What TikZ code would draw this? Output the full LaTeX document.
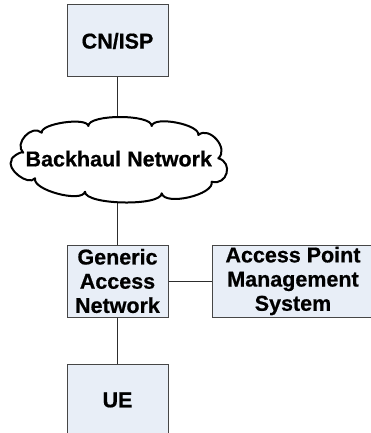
\documentclass[tikz,border=0pt]{standalone}
\usepackage{fontspec}
\setmainfont{Liberation Sans}
\newfontface\heavy{Liberation Sans Bold}[FakeBold=0.6]
\definecolor{boxfill}{RGB}{232,238,247}
\definecolor{boxline}{RGB}{70,70,70}
\definecolor{linec}{RGB}{45,45,45}
\begin{document}
\begin{tikzpicture}[x=1pt,y=-1pt,
  box/.style={draw=boxline, line width=1pt, fill=boxfill, minimum width=101pt,
    minimum height=72pt, inner sep=0pt, align=center,
    font=\heavy\fontsize{21.5}{24.2}\selectfont},
  link/.style={draw=linec, line width=1pt},
  cloudline/.style={draw=black, line width=2pt, fill=white, line join=round},
  lbl/.style={inner sep=0pt, font=\heavy\fontsize{21.5}{24.2}\selectfont}]
\fill[white] (0,0) rectangle (370,433);
\useasboundingbox (0,0) rectangle (370,433);
% boxes
\node[box] (cn)   at (117.5,41)  {CN/ISP};
\node[box] (gan)  at (117.5,281) {Generic\\Access\\Network};
\node[box, minimum width=162pt] (apms) at (293,281) {Access Point\\Management\\System};
\node[box] (ue)   at (117.5,400) {UE};
% connectors
\draw[link] (cn) -- (gan);
\draw[link] (gan) -- (apms);
\draw[link] (gan) -- (ue);
% cloud
\draw[cloudline]
  (23.3,152.7)
  .. controls (13.5,143.7) and (31.9,123.7) .. (41.7,132.7)
  .. controls (40.4,123.5) and (87.0,116.8) .. (88.3,126)
  .. controls (88.3,114) and (151.7,114) .. (151.7,126)
  .. controls (153.7,115.5) and (200.3,124.5) .. (198.3,135)
  .. controls (209.4,125.5) and (229.4,148.8) .. (218.3,158.3)
  .. controls (233.7,162.6) and (227.1,186.0) .. (211.7,181.7)
  .. controls (214.7,194.7) and (164.7,206.3) .. (161.7,193.3)
  .. controls (161.4,206.6) and (84.7,205.0) .. (85,191.7)
  .. controls (81.9,203.3) and (31.9,189.9) .. (35,178.3)
  .. controls (28.4,186.7) and (5.1,168.4) .. (11.7,160)
  .. controls (10.3,157.7) and (21.9,150.4) .. (23.3,152.7)
  -- cycle;
\node[lbl] (bh) at (118.8,158.7) {Backhaul Network};
\end{tikzpicture}
\end{document}
